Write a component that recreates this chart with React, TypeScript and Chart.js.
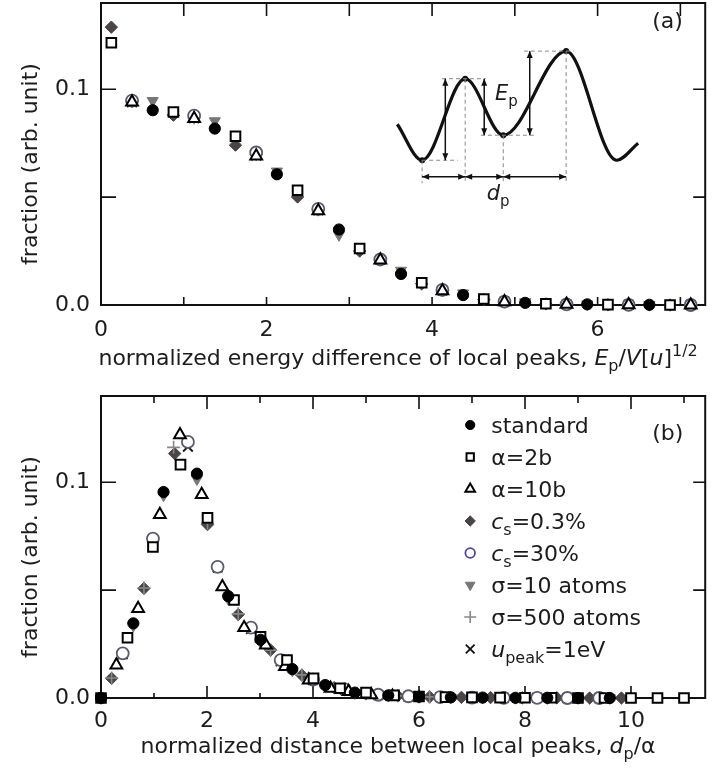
import React, { useEffect, useRef } from "react";
import { Chart, registerables } from "chart.js";
import { drawPoint } from "chart.js/helpers";
Chart.register(...registerables);

// ---------------- Panel (a) data: energy difference of local peaks ----------------
const aBinsSquareGroup = [0.125, 0.875, 1.625, 2.375, 3.125, 3.875, 4.625, 5.375, 6.125, 6.875];
const aBinsTriangleGroup = [0.375, 1.125, 1.875, 2.625, 3.375, 4.125, 4.875, 5.625, 6.375, 7.125];
const aBinsCircleGroup = [0.625, 1.375, 2.125, 2.875, 3.625, 4.375, 5.125, 5.875, 6.625];

const aStandard = [0.0903, 0.0818, 0.0606, 0.035, 0.0144, 0.0046, 0.001, 0.0003, 0.0001];
const aSigma10 = [0.0947, 0.0853, 0.062, 0.0325, 0.016, 0.0055, 0.0014, 0.0004, 0.0001];
const aAlpha2b = [0.1216, 0.0895, 0.0782, 0.0532, 0.0262, 0.0103, 0.0028, 0.0006, 0.0002, 0.0];
const aCs03 = [0.1288, 0.088, 0.0741, 0.0501, 0.025, 0.0098, 0.0025, 0.0005, 0.0001, 0.0];
const aAlpha10b = [0.0941, 0.0864, 0.069, 0.0437, 0.0208, 0.0066, 0.0015, 0.0003, 0.0001, 0.0];
const aCs30 = [0.0947, 0.0878, 0.0707, 0.0446, 0.0211, 0.007, 0.0016, 0.0003, 0.0001, 0.0];
const aSigma500 = [0.0943, 0.0868, 0.0698, 0.0442, 0.0211, 0.0068, 0.0015, 0.0003, 0.0001, 0.0];
const aUpeak = [0.094, 0.0866, 0.0693, 0.0439, 0.0209, 0.0067, 0.0016, 0.0003, 0.0001, 0.0];

// inset schematic of panel (a), in data units of panel (a)
const insetCurveX = [3.58, 3.88, 4.4, 4.86, 5.62, 6.23, 6.49];
const insetCurveY = [0.0838, 0.0671, 0.1049, 0.0787, 0.1177, 0.0671, 0.075];
const insetDotRadius = [0, 3, 3, 3, 3, 0, 0];
const insetGuideH = [[3.88, 4.31, 0.0671], [4.12, 4.65, 0.1049], [4.59, 5.25, 0.0787], [5.11, 5.71, 0.1177]];
const insetGuideV = [[3.88, 0.0671, 0.0565], [4.4, 0.1049, 0.0565], [4.86, 0.0787, 0.0565], [5.62, 0.1177, 0.0565]];
const insetEpArrows = [[4.16, 0.0671, 0.1049], [4.63, 0.1049, 0.0787], [5.18, 0.1177, 0.0787]];
const insetDpArrows = [[3.88, 4.4, 0.0594], [4.4, 4.86, 0.0594], [4.86, 5.62, 0.0594]];
const insetEpLabelAt = [4.76, 0.0949];
const insetDpLabelAt = [4.66, 0.0486];

// ---------------- Panel (b) data: distance between local peaks ----------------
const bStandardX = [0, 0.61, 1.18, 1.81, 2.4, 3.01, 3.61, 4.23, 4.79, 5.42, 6.0, 6.6, 7.2, 7.82, 8.42, 9.0, 9.6];
const bStandardY = [0, 0.0346, 0.0955, 0.104, 0.0472, 0.027, 0.0134, 0.006, 0.0025, 0.0012, 0.0006, 0.0003, 0.0002, 0.0001, 0.0001, 0, 0];
const bSigma10X = [0, 0.61, 1.18, 1.81, 2.4, 3.01, 3.61, 4.23, 4.79, 5.42, 6.0, 6.6, 7.2, 7.82, 8.42, 9.0, 9.6];
const bSigma10Y = [0, 0.0335, 0.094, 0.1015, 0.046, 0.026, 0.0128, 0.0056, 0.0023, 0.0011, 0.0005, 0.0003, 0.0002, 0.0001, 0, 0, 0];
const bAlpha2bX = [0, 0.5, 0.98, 1.5, 2.01, 2.51, 3.01, 3.51, 4.01, 4.51, 5.0, 5.53, 6.0, 6.5, 7.0, 7.53, 8.0, 8.5, 9.0, 9.5, 10.0, 10.5, 11.0];
const bAlpha2bY = [0, 0.0279, 0.07, 0.1082, 0.0835, 0.0454, 0.0284, 0.0176, 0.0091, 0.0045, 0.0025, 0.0012, 0.0007, 0.0004, 0.0003, 0.0002, 0.0001, 0.0001, 0, 0, 0, 0, 0];
const bAlpha10bX = [0.29, 0.7, 1.11, 1.49, 1.9, 2.29, 2.7, 3.11, 3.47, 3.92, 4.33, 4.67, 5.1, 5.5];
const bAlpha10bY = [0.0153, 0.0415, 0.085, 0.122, 0.0943, 0.0515, 0.0326, 0.0245, 0.0145, 0.0083, 0.0045, 0.003, 0.0015, 0.0008];
const bCs03X = [0.2, 0.81, 1.39, 2.01, 2.59, 3.2, 3.79, 4.4, 5.0, 5.6, 6.2, 6.8, 7.35, 7.95, 8.6, 9.22, 9.82];
const bCs03Y = [0.0091, 0.0508, 0.1133, 0.0804, 0.0387, 0.0222, 0.0106, 0.0048, 0.002, 0.001, 0.0005, 0.0003, 0.0002, 0.0001, 0.0001, 0, 0];
const bCs30X = [0.41, 0.98, 1.64, 2.2, 2.83, 3.39, 4.0, 4.6, 5.23, 5.8, 6.4, 7.0, 7.6, 8.23, 8.8, 9.4];
const bCs30Y = [0.0207, 0.0739, 0.1187, 0.0608, 0.0326, 0.0176, 0.0085, 0.004, 0.0015, 0.0008, 0.0004, 0.0002, 0.0001, 0.0001, 0, 0];
const bUpeakX = [0.41, 0.98, 1.64, 2.2, 2.83, 3.39, 4.0, 4.6, 5.23, 5.8, 6.4, 7.0, 7.6, 8.23, 8.8, 9.4];
const bUpeakY = [0.0203, 0.0725, 0.1165, 0.0605, 0.032, 0.017, 0.0083, 0.0038, 0.0014, 0.0007, 0.0004, 0.0002, 0.0001, 0.0001, 0, 0];
const bSigma500X = [0.2, 0.81, 1.37, 2.01, 2.59, 3.2, 3.79, 4.4, 5.0, 5.6, 6.2];
const bSigma500Y = [0.0093, 0.051, 0.1162, 0.081, 0.039, 0.0222, 0.0107, 0.0048, 0.002, 0.001, 0.0005];

// tick labels
const aXTickLabels = ["0", "2", "4", "6"];
const bXTickLabels = ["0", "2", "4", "6", "8", "10"];
const yTickLabels = ["0.0", "0.1"];

// ---------------- styles ----------------
const FONT = '"DejaVu Sans", "Liberation Sans", sans-serif';
const TXT = "#1c1c1c";
const FS = 22;

type Seg = { t: string; i?: boolean; sub?: boolean; sup?: boolean };

const legendLabels: Seg[][] = [
  [{ t: "standard" }],
  [{ t: "α=2b" }],
  [{ t: "α=10b" }],
  [{ t: "c", i: true }, { t: "s", sub: true }, { t: "=0.3%" }],
  [{ t: "c", i: true }, { t: "s", sub: true }, { t: "=30%" }],
  [{ t: "σ=10 atoms" }],
  [{ t: "σ=500 atoms" }],
  [{ t: "u", i: true }, { t: "peak", sub: true }, { t: "=1eV" }],
];

// style per series in legend order
const styles = [
  { pointStyle: "circle", radius: 5.6, fill: "#000000", stroke: "#000000", legendStroke: "#000000", bw: 1, rot: 0, lr: 4.6 },
  { pointStyle: "rect", radius: 6.8, fill: "#ffffff", stroke: "#000000", legendStroke: "#000000", bw: 2, rot: 0, lr: 5.2 },
  { pointStyle: "triangle", radius: 6.8, fill: "#ffffff", stroke: "#000000", legendStroke: "#000000", bw: 2, rot: 0, lr: 5.6 },
  { pointStyle: "rectRot", radius: 6.2, fill: "#4a4444", stroke: "#4a4444", legendStroke: "#4a4444", bw: 1, rot: 0, lr: 5.2 },
  { pointStyle: "circle", radius: 6, fill: "#ffffff", stroke: "#5a5a6e", legendStroke: "#4a46a0", bw: 1.8, rot: 0, lr: 4.8 },
  { pointStyle: "triangle", radius: 6.4, fill: "#767676", stroke: "#767676", legendStroke: "#767676", bw: 1, rot: 180, lr: 5.6 },
  { pointStyle: "cross", radius: 6.5, fill: "#888888", stroke: "#888888", legendStroke: "#888888", bw: 1.6, rot: 0, lr: 6 },
  { pointStyle: "crossRot", radius: 6.8, fill: "#111111", stroke: "#111111", legendStroke: "#111111", bw: 1.8, rot: 0, lr: 6.2 },
];
// drawing order: first = on top
const drawOrder = [0, 1, 2, 4, 7, 6, 5, 3];

function pts(xs: number[], ys: number[]) {
  return xs.map((x, i) => ({ x, y: ys[i] }));
}

function segFont(s: Seg, size: number) {
  const sz = s.sub || s.sup ? Math.round(size * 0.72) : size;
  return `${s.i ? "italic " : ""}${sz}px ${FONT}`;
}
function richWidth(ctx: CanvasRenderingContext2D, segs: Seg[], size: number) {
  let w = 0;
  for (const s of segs) {
    ctx.font = segFont(s, size);
    w += ctx.measureText(s.t).width;
  }
  return w;
}
function drawRich(ctx: CanvasRenderingContext2D, segs: Seg[], x: number, y: number, size: number, align: "left" | "center") {
  ctx.save();
  ctx.fillStyle = TXT;
  ctx.textBaseline = "alphabetic";
  ctx.textAlign = "left";
  let cx = align === "center" ? x - richWidth(ctx, segs, size) / 2 : x;
  for (const s of segs) {
    ctx.font = segFont(s, size);
    const dy = s.sub ? size * 0.27 : s.sup ? -size * 0.42 : 0;
    ctx.fillText(s.t, cx, y + dy);
    cx += ctx.measureText(s.t).width;
  }
  ctx.restore();
}

function arrowHead(ctx: CanvasRenderingContext2D, x: number, y: number, dx: number, dy: number) {
  const L = 7, W = 3;
  ctx.beginPath();
  ctx.moveTo(x, y);
  ctx.lineTo(x - dx * L - dy * W, y - dy * L + dx * W);
  ctx.lineTo(x - dx * L + dy * W, y - dy * L - dx * W);
  ctx.closePath();
  ctx.fill();
}
function doubleArrow(ctx: CanvasRenderingContext2D, x1: number, y1: number, x2: number, y2: number) {
  const len = Math.hypot(x2 - x1, y2 - y1);
  const dx = (x2 - x1) / len, dy = (y2 - y1) / len;
  ctx.beginPath();
  ctx.moveTo(x1, y1);
  ctx.lineTo(x2, y2);
  ctx.stroke();
  arrowHead(ctx, x2, y2, dx, dy);
  arrowHead(ctx, x1, y1, -dx, -dy);
}

type FrameCfg = {
  topMajor: number; topMinor: number; botMajor: number; botMinor: number;
  left: number; right: number; panelLabel: string; labelDy: number;
  xTitle: Seg[]; titleDy: number;
};

function framePlugin(cfg: FrameCfg) {
  return {
    id: "frame",
    beforeDatasetsDraw(chart: any) {
      const { ctx, chartArea: a, scales } = chart;
      const xs = scales.x, ys = scales.y;
      ctx.save();
      ctx.strokeStyle = "#111";
      ctx.lineWidth = 2;
      ctx.strokeRect(a.left, a.top, a.right - a.left, a.bottom - a.top);
      ctx.lineWidth = 1.6;
      ctx.beginPath();
      for (const t of xs.ticks) {
        const v = t.value;
        if (v <= xs.min || v >= xs.max) continue;
        const p = xs.getPixelForValue(v);
        const major = Math.round(v) % 2 === 0;
        const lt = major ? cfg.topMajor : cfg.topMinor;
        const lb = major ? cfg.botMajor : cfg.botMinor;
        ctx.moveTo(p, a.top);
        ctx.lineTo(p, a.top + lt);
        ctx.moveTo(p, a.bottom);
        ctx.lineTo(p, a.bottom - lb);
      }
      for (const t of ys.ticks) {
        const v = t.value;
        if (v <= ys.min + 1e-9 || v >= ys.max - 1e-9) continue;
        const p = ys.getPixelForValue(v);
        ctx.moveTo(a.left, p);
        ctx.lineTo(a.left + cfg.left, p);
        ctx.moveTo(a.right, p);
        ctx.lineTo(a.right - cfg.right, p);
      }
      ctx.stroke();
      ctx.restore();
    },
    afterDraw(chart: any) {
      const { ctx, chartArea: a } = chart;
      ctx.save();
      ctx.fillStyle = TXT;
      ctx.font = `${FS}px ${FONT}`;
      ctx.textAlign = "left";
      ctx.textBaseline = "alphabetic";
      ctx.fillText(cfg.panelLabel, a.right - 53, a.top + cfg.labelDy);
      ctx.translate(31, (a.top + a.bottom) / 2 + 10);
      ctx.rotate(-Math.PI / 2);
      ctx.textAlign = "center";
      ctx.textBaseline = "middle";
      ctx.fillText("fraction (arb. unit)", 0, 0);
      ctx.restore();
      drawRich(ctx, cfg.xTitle, (a.left + a.right) / 2 - 5, a.bottom + cfg.titleDy, FS, "center");
    },
  };
}

const insetPlugin = {
  id: "inset",
  afterDatasetsDraw(chart: any) {
    const { ctx, scales } = chart;
    const X = (v: number) => scales.x.getPixelForValue(v);
    const Y = (v: number) => scales.y.getPixelForValue(v);
    ctx.save();
    ctx.strokeStyle = "#8a8a8a";
    ctx.lineWidth = 1;
    ctx.setLineDash([4, 3]);
    ctx.beginPath();
    for (const [x1, x2, y] of insetGuideH) {
      ctx.moveTo(X(x1), Y(y));
      ctx.lineTo(X(x2), Y(y));
    }
    for (const [x, y1, y2] of insetGuideV) {
      ctx.moveTo(X(x), Y(y1));
      ctx.lineTo(X(x), Y(y2));
    }
    ctx.stroke();
    ctx.setLineDash([]);
    ctx.strokeStyle = "#111";
    ctx.fillStyle = "#111";
    ctx.lineWidth = 1.5;
    for (const [x, y1, y2] of insetEpArrows) doubleArrow(ctx, X(x), Y(y1), X(x), Y(y2));
    for (const [x1, x2, y] of insetDpArrows) doubleArrow(ctx, X(x1), Y(y), X(x2), Y(y));
    ctx.restore();
    drawRich(ctx, [{ t: "E", i: true }, { t: "p", sub: true }], X(insetEpLabelAt[0]), Y(insetEpLabelAt[1]), 21, "left");
    drawRich(ctx, [{ t: "d", i: true }, { t: "p", sub: true }], X(insetDpLabelAt[0]), Y(insetDpLabelAt[1]), 21, "left");
  },
};

const legendPlugin = {
  id: "customLegend",
  afterDraw(chart: any) {
    const { ctx, chartArea: a } = chart;
    legendLabels.forEach((segs, i) => {
      const st = styles[i];
      const y = a.top + 29 + 32 * i;
      const mx = a.right - 235;
      ctx.save();
      ctx.fillStyle = st.fill;
      ctx.strokeStyle = st.legendStroke;
      ctx.lineWidth = st.bw;
      drawPoint(ctx, { pointStyle: st.pointStyle as any, radius: st.lr, rotation: st.rot, borderWidth: st.bw }, mx, y);
      ctx.restore();
      drawRich(ctx, segs, a.right - 214, y + 8, FS, "left");
    });
  },
};

function seriesDatasets(series: { x: number[]; y: number[] }[]) {
  return drawOrder.map((idx) => {
    const st = styles[idx];
    return {
      label: legendLabels[idx].map((s) => s.t).join(""),
      data: pts(series[idx].x, series[idx].y),
      showLine: false,
      pointStyle: st.pointStyle,
      pointRadius: st.radius,
      pointRotation: st.rot,
      pointBackgroundColor: st.fill,
      pointBorderColor: st.stroke,
      pointBorderWidth: st.bw,
      backgroundColor: st.fill,
      borderColor: st.stroke,
      clip: false,
    };
  });
}

function scalesFor(xMax: number, xLabels: string[], xHeight: number, xPad: number) {
  return {
    x: {
      type: "linear",
      min: 0,
      max: xMax,
      border: { display: false },
      grid: { display: false, drawTicks: false },
      ticks: {
        stepSize: 1,
        includeBounds: false,
        autoSkip: false,
        maxRotation: 0,
        padding: xPad,
        color: TXT,
        font: { family: FONT, size: FS },
        callback: (v: number) => {
          const r = Math.round(v);
          return r % 2 === 0 && xLabels[r / 2] !== undefined ? xLabels[r / 2] : "";
        },
      },
      afterFit: (s: any) => {
        s.height = xHeight;
        s.paddingLeft = 0;
        s.paddingRight = 0;
      },
    },
    y: {
      type: "linear",
      min: 0,
      max: 0.14,
      border: { display: false },
      grid: { display: false, drawTicks: false },
      ticks: {
        stepSize: 0.05,
        includeBounds: false,
        autoSkip: false,
        padding: 11,
        color: TXT,
        font: { family: FONT, size: FS },
        callback: (v: number) => {
          if (Math.abs(v) < 1e-9) return yTickLabels[0];
          if (Math.abs(v - 0.1) < 1e-9) return yTickLabels[1];
          return "";
        },
      },
      afterFit: (s: any) => {
        s.width = 101;
        s.paddingTop = 0;
        s.paddingBottom = 0;
      },
    },
  };
}

function configA(): any {
  const series = [
    { x: aBinsCircleGroup, y: aStandard },
    { x: aBinsSquareGroup, y: aAlpha2b },
    { x: aBinsTriangleGroup, y: aAlpha10b },
    { x: aBinsSquareGroup, y: aCs03 },
    { x: aBinsTriangleGroup, y: aCs30 },
    { x: aBinsCircleGroup, y: aSigma10 },
    { x: aBinsTriangleGroup, y: aSigma500 },
    { x: aBinsTriangleGroup, y: aUpeak },
  ];
  const datasets: any[] = seriesDatasets(series);
  datasets.push({
    label: "inset",
    data: pts(insetCurveX, insetCurveY),
    showLine: true,
    cubicInterpolationMode: "monotone",
    borderColor: "#111",
    borderWidth: 3.2,
    pointRadius: insetDotRadius,
    pointBackgroundColor: "#111",
    pointBorderColor: "#111",
    pointBorderWidth: 0,
    fill: false,
    clip: false,
  });
  return {
    type: "scatter",
    data: { datasets },
    options: {
      responsive: false,
      animation: false,
      devicePixelRatio: 1,
      events: [],
      layout: { padding: { top: 11, right: 6, left: 0, bottom: 0 } },
      plugins: { legend: { display: false }, tooltip: { enabled: false } },
      scales: scalesFor(7.3, aXTickLabels, 80, 12),
    },
    plugins: [
      framePlugin({
        topMajor: 13, topMinor: 13, botMajor: 8, botMinor: 8, left: 15, right: 12,
        panelLabel: "(a)", labelDy: 25,
        xTitle: [
          { t: "normalized energy difference of local peaks, " },
          { t: "E", i: true }, { t: "p", sub: true }, { t: "/" }, { t: "V", i: true },
          { t: "[" }, { t: "u", i: true }, { t: "]" }, { t: "1/2", sup: true },
        ],
        titleDy: 60,
      }),
      insetPlugin,
    ],
  };
}

function configB(): any {
  const series = [
    { x: bStandardX, y: bStandardY },
    { x: bAlpha2bX, y: bAlpha2bY },
    { x: bAlpha10bX, y: bAlpha10bY },
    { x: bCs03X, y: bCs03Y },
    { x: bCs30X, y: bCs30Y },
    { x: bSigma10X, y: bSigma10Y },
    { x: bSigma500X, y: bSigma500Y },
    { x: bUpeakX, y: bUpeakY },
  ];
  return {
    type: "scatter",
    data: { datasets: seriesDatasets(series) },
    options: {
      responsive: false,
      animation: false,
      devicePixelRatio: 1,
      events: [],
      layout: { padding: { top: 11, right: 6, left: 0, bottom: 0 } },
      plugins: { legend: { display: false }, tooltip: { enabled: false } },
      scales: scalesFor(11.4, bXTickLabels, 77, 10),
    },
    plugins: [
      framePlugin({
        topMajor: 13, topMinor: 7, botMajor: 12, botMinor: 5, left: 15, right: 12,
        panelLabel: "(b)", labelDy: 44,
        xTitle: [
          { t: "normalized distance between local peaks, " },
          { t: "d", i: true }, { t: "p", sub: true }, { t: "/α" },
        ],
        titleDy: 55,
      }),
      legendPlugin,
    ],
  };
}

export default function App() {
  const refA = useRef<HTMLCanvasElement>(null);
  const refB = useRef<HTMLCanvasElement>(null);
  useEffect(() => {
    const ca = new Chart(refA.current as HTMLCanvasElement, configA());
    const cb = new Chart(refB.current as HTMLCanvasElement, configB());
    return () => {
      ca.destroy();
      cb.destroy();
    };
  }, []);
  return (
    <div style={{ position: "absolute", left: 0, top: 0, width: 714, height: 775, background: "#fff", overflow: "hidden" }}>
      <canvas ref={refA} width={714} height={393} style={{ position: "absolute", left: 0, top: -8, width: 714, height: 393 }} />
      <canvas ref={refB} width={714} height={390} style={{ position: "absolute", left: 0, top: 385, width: 714, height: 390 }} />
    </div>
  );
}
